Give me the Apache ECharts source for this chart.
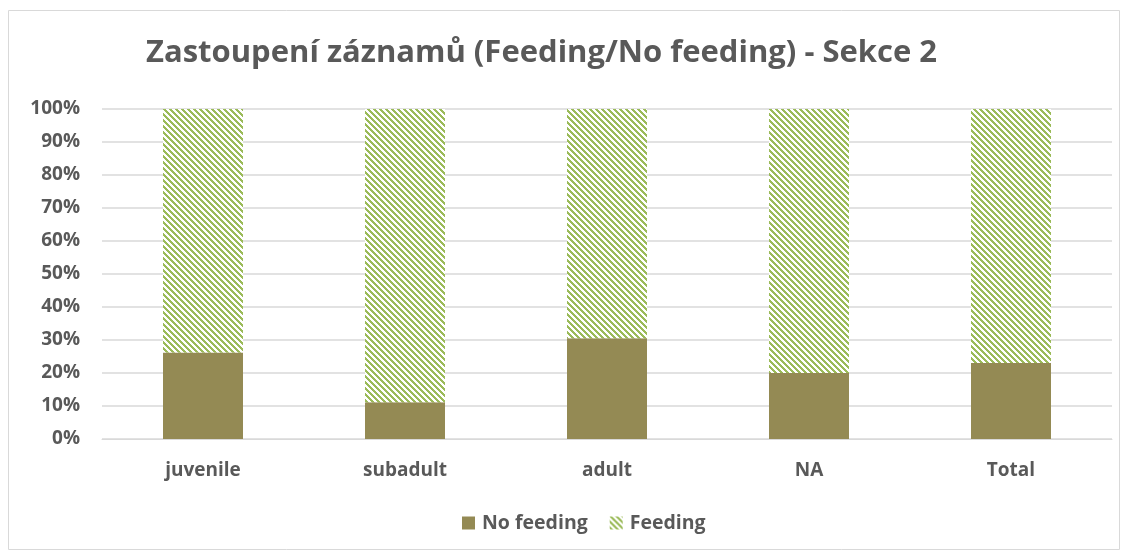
<!DOCTYPE html>
<html>
<head>
<meta charset="utf-8">
<script src="https://cdn.jsdelivr.net/npm/echarts@6/dist/echarts.min.js"></script>
<style>
  html, body { margin: 0; padding: 0; background: #fff; }
  #chart { width: 1129px; height: 558px; }
</style>
</head>
<body>
<div id="chart"></div>
<script>
// categories and values (percent)
var categories = ['juvenile', 'subadult', 'adult', 'NA', 'Total'];
var noFeeding = [26.2, 11.1, 30.5, 20.0, 23.0];
var feeding = [73.8, 88.9, 69.5, 80.0, 77.0];
var yTicks = [0, 10, 20, 30, 40, 50, 60, 70, 80, 90, 100];

// crisp pixel stripes for Feeding (Excel "wide downward diagonal")
function makeStripes() {
    var n = 6;
    var c = document.createElement('canvas');
    c.width = n; c.height = n;
    var ctx = c.getContext('2d');
    ctx.fillStyle = '#ffffff';
    ctx.fillRect(0, 0, n, n);
    ctx.fillStyle = '#9BBB59';
    for (var y = 0; y < n; y++) {
        for (var i = 0; i < 3; i++) {
            ctx.fillRect((y + i) % n, y, 1, 1);
        }
    }
    return c;
}
var stripes = makeStripes();

var font = 'Open Sans, sans-serif';
var chart = echarts.init(document.getElementById('chart'));
var option = {
    animation: false,
    title: {
        text: 'Zastoupení záznamů (Feeding/No feeding) - Sekce 2',
        left: 141,
        top: 33,
        textStyle: { fontFamily: font, fontSize: 31, fontWeight: 'bold', color: '#595959' }
    },
    graphic: [{
        type: 'rect',
        shape: { x: 8.5, y: 10.5, width: 1111, height: 539 },
        style: { fill: 'none', stroke: '#D9D9D9', lineWidth: 1 },
        silent: true
    }],
    legend: {
        bottom: 20,
        left: 457,
        itemWidth: 13,
        itemHeight: 13,
        itemGap: 22,
        icon: 'rect',
        textStyle: { fontFamily: font, fontSize: 19.5, fontWeight: 'bold', color: '#595959', padding: [0, 0, 0, 2] },
        data: ['No feeding', 'Feeding']
    },
    grid: { left: 102, right: 17, top: 109, bottom: 119 },
    xAxis: {
        type: 'category',
        data: categories,
        axisLine: { lineStyle: { color: '#D9D9D9' } },
        axisTick: { show: false },
        axisLabel: { fontFamily: font, fontSize: 19, fontWeight: 'bold', color: '#595959', margin: 22 }
    },
    yAxis: {
        type: 'value',
        min: 0,
        max: 100,
        interval: 10,
        axisLine: { show: false },
        axisTick: { show: false },
        splitLine: { lineStyle: { color: '#D9D9D9', width: 1.5 } },
        axisLabel: {
            fontFamily: font, fontSize: 19, fontWeight: 'bold', color: '#595959', margin: 22,
            formatter: function (v) { return yTicks.indexOf(v) >= 0 ? v + '%' : ''; }
        }
    },
    series: [{
        name: 'No feeding',
        type: 'bar',
        stack: 'all',
        barWidth: 80,
        data: noFeeding,
        itemStyle: { color: '#948A54' }
    }, {
        name: 'Feeding',
        type: 'bar',
        stack: 'all',
        barWidth: 80,
        data: feeding,
        itemStyle: { color: { image: stripes, repeat: 'repeat' } }
    }]
};
chart.setOption(option);
</script>
</body>
</html>
